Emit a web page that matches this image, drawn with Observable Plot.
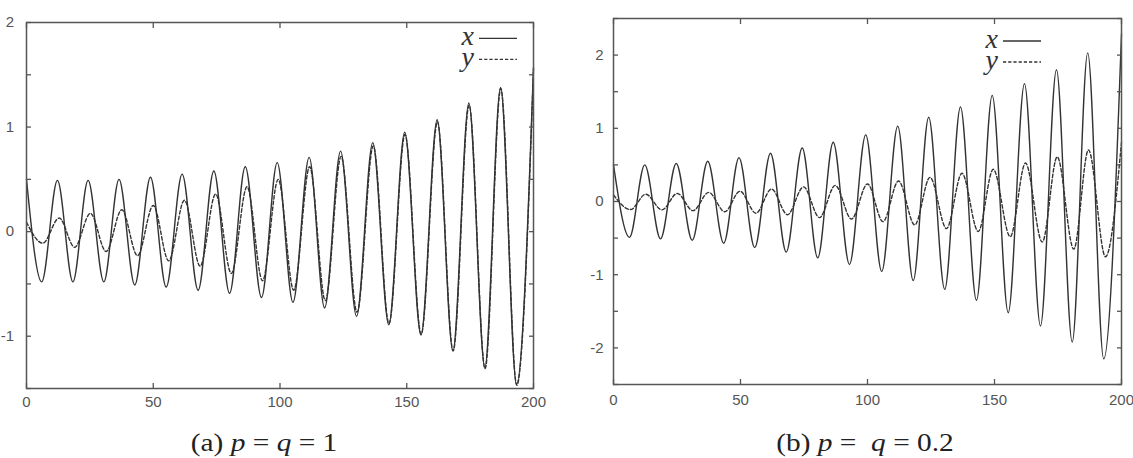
<!DOCTYPE html>
<html><head><meta charset="utf-8">
<script src="https://cdn.jsdelivr.net/npm/d3@7"></script>
<script src="https://cdn.jsdelivr.net/npm/@observablehq/plot@0.6"></script>
<style>
body{margin:0;background:#fff;}
#wrap{position:relative;width:1133px;height:458px;overflow:hidden;background:#fff;}
.panel{position:absolute;top:0;}
#over{position:absolute;left:0;top:0;pointer-events:none;}
</style></head><body>
<div id="wrap"></div>
<script>
// axis ticks
const xTicks = [0, 50, 100, 150, 200];
const yTicksA = [-1.5, -1, -0.5, 0, 0.5, 1, 1.5, 2];
const yLabelsA = [-1, 0, 1, 2];
const yTicksB = [-2.5, -2, -1.5, -1, -0.5, 0, 0.5, 1, 1.5, 2, 2.5];
const yLabelsB = [-2, -1, 0, 1, 2];

// legend labels
const seriesNames = ["x", "y"];

// panel (a) p = q = 1 : extrema
const aX_t = [0,6.0,12.2,18.3,24.3,30.5,36.5,42.7,48.9,55.1,61.4,67.7,73.9,80.1,86.3,92.7,98.9,105.1,111.5,117.6,123.9,130.2,136.6,142.9,149.2,155.6,162.0,168.2,174.5,180.8,187.0,193.3,200];
const aX_v = [0.50,-0.48,0.49,-0.48,0.49,-0.48,0.50,-0.51,0.52,-0.53,0.55,-0.56,0.58,-0.59,0.62,-0.63,0.66,-0.675,0.71,-0.73,0.77,-0.81,0.85,-0.89,0.95,-0.99,1.07,-1.14,1.23,-1.30,1.38,-1.46,1.57];
const aY_t = [0,6.4,12.9,19.0,25.2,31.4,37.6,43.8,50.0,56.1,62.3,68.5,74.6,80.8,87.0,93.1,99.3,105.4,111.7,117.9,124.1,130.4,136.8,143.0,149.3,155.7,162.1,168.3,174.6,180.9,187.1,193.4,200];
const aY_v = [0.09,-0.11,0.13,-0.15,0.175,-0.19,0.21,-0.23,0.25,-0.28,0.30,-0.33,0.36,-0.40,0.43,-0.47,0.50,-0.56,0.62,-0.66,0.72,-0.77,0.82,-0.88,0.93,-0.98,1.05,-1.14,1.21,-1.31,1.37,-1.47,1.55];

// panel (b) p = q = 0.2
const bX_t = [0,6.3,12.3,18.5,24.7,31.0,37.1,43.4,49.4,55.6,61.8,68.0,74.3,80.4,86.5,92.9,99.3,105.6,111.9,118.0,124.1,130.4,136.6,142.9,149.1,155.4,161.8,168.1,174.4,180.6,186.7,193.0,200];
const bX_v = [0.50,-0.49,0.50,-0.51,0.52,-0.53,0.55,-0.57,0.60,-0.63,0.66,-0.69,0.73,-0.77,0.81,-0.86,0.91,-0.955,1.03,-1.08,1.15,-1.20,1.29,-1.35,1.45,-1.52,1.61,-1.70,1.80,-1.92,2.03,-2.15,2.29];
const bY_t = [0,6.7,12.7,19.1,25.1,31.3,37.5,43.8,49.8,56.1,62.2,68.5,74.8,81.1,87.3,93.7,100.0,106.1,112.2,118.6,124.6,131.1,137.2,143.6,149.5,156.2,162.2,168.8,174.7,181.2,187.0,193.7,200];
const bY_v = [0.09,-0.11,0.10,-0.115,0.11,-0.125,0.125,-0.14,0.14,-0.16,0.17,-0.18,0.20,-0.22,0.22,-0.24,0.24,-0.275,0.28,-0.32,0.33,-0.37,0.385,-0.41,0.44,-0.48,0.525,-0.555,0.61,-0.65,0.705,-0.755,0.81];

const captionA = ["(a) ", "p", " = ", "q", " = 1"];
const captionB = ["(b) ", "p", " =  ", "q", " = 0.2"];

const rows = (T, V) => T.map((t, i) => ({t, v: V[i]}));
const INK = "#333";
const AX = "#555";
const SERIF = '"Liberation Serif", "Times New Roman", Times, serif';

function panel(o) {
  return Plot.plot({
    width: o.W, height: o.H,
    marginLeft: o.ml, marginRight: o.mr, marginTop: o.mt, marginBottom: o.mb,
    style: {fontFamily: '"Liberation Sans", Arial, sans-serif', background: "transparent", overflow: "visible"},
    x: {domain: [0, 200], label: null},
    y: {domain: o.yDomain, label: null},
    marks: [
      Plot.line(o.solid, {x: "t", y: "v", curve: "monotone-x", stroke: INK, strokeWidth: 1.4}),
      Plot.line(o.dashed, {x: "t", y: "v", curve: "monotone-x", stroke: INK, strokeWidth: 1.4, strokeDasharray: "3.5,2.2"}),
      Plot.axisX({anchor: "bottom", ticks: xTicks, tickSize: 0, tickPadding: o.xPad, tickFormat: d => String(d), fontSize: 15, fill: AX, label: null}),
      Plot.axisX({anchor: "bottom", ticks: xTicks, tickSize: -5, tickFormat: () => "", stroke: AX, strokeWidth: 1.3, label: null}),
      Plot.axisX({anchor: "top", ticks: xTicks, tickSize: -5, tickFormat: () => "", stroke: AX, strokeWidth: 1.3, label: null}),
      Plot.axisY({anchor: "left", ticks: o.yLabels, tickSize: 0, tickPadding: o.yPad, tickFormat: d => String(d), fontSize: 15, fill: AX, label: null}),
      Plot.axisY({anchor: "left", ticks: o.yTicks, tickSize: -5, tickFormat: () => "", stroke: AX, strokeWidth: 1.3, label: null}),
      Plot.axisY({anchor: "right", ticks: o.yTicks, tickSize: -5, tickFormat: () => "", stroke: AX, strokeWidth: 1.3, label: null}),
      Plot.frame({stroke: AX, strokeWidth: 1.5})
    ]
  });
}

function legend(svg, lineRight, yTop) {
  const g = d3.select(svg).append("g");
  const gap = 21;
  // one text block holding both labels, stacked
  const t = g.append("text").attr("text-anchor", "end")
    .style("font-family", SERIF).style("font-style", "italic")
    .style("font-size", "28px").attr("fill", "#333");
  seriesNames.forEach((lab, i) => {
    t.append("tspan").attr("x", lineRight - 43).attr("y", yTop + i * gap + 7).text(lab);
  });
  seriesNames.forEach((lab, i) => {
    const ln = g.append("line").attr("x1", lineRight - 38).attr("x2", lineRight)
      .attr("y1", yTop + i * gap).attr("y2", yTop + i * gap)
      .attr("stroke", INK).attr("stroke-width", 1.3);
    if (i === 1) ln.attr("stroke-dasharray", "3.2,2");
  });
}

const wrap = document.getElementById("wrap");

const A = panel({W: 560, H: 410, ml: 26, mr: 27, mt: 22, mb: 22, yDomain: [-1.5, 2],
  yTicks: yTicksA, yLabels: yLabelsA, xPad: 8, yPad: 12.5,
  solid: rows(aX_t, aX_v), dashed: rows(aY_t, aY_v)});
A.classList.add("panel"); A.style.left = "0px";
legend(A, 517, 38.3);
wrap.appendChild(A);

const B = panel({W: 573, H: 410, ml: 53, mr: 12, mt: 18, mb: 26, yDomain: [-2.5, 2.5],
  yTicks: yTicksB, yLabels: yLabelsB, xPad: 10, yPad: 10,
  solid: rows(bX_t, bX_v), dashed: rows(bY_t, bY_v)});
B.classList.add("panel"); B.style.left = "560px";
legend(B, 481, 41);
wrap.appendChild(B);

// captions
const over = d3.select(wrap).append("svg").attr("id", "over").attr("width", 1133).attr("height", 458);
function caption(parts, cx) {
  const t = over.append("text").attr("x", 0).attr("y", 0).attr("text-anchor", "middle")
    .attr("transform", `translate(${cx},451) scale(1.13,1)`)
    .style("font-family", SERIF).style("font-size", "26px")
    .attr("fill", "#222").style("white-space", "pre");
  parts.forEach((p, i) => {
    const s = t.append("tspan").text(p);
    if (i % 2 === 1) s.style("font-style", "italic");
  });
}
caption(captionA, 264);
caption(captionB, 865);
</script>
</body></html>
